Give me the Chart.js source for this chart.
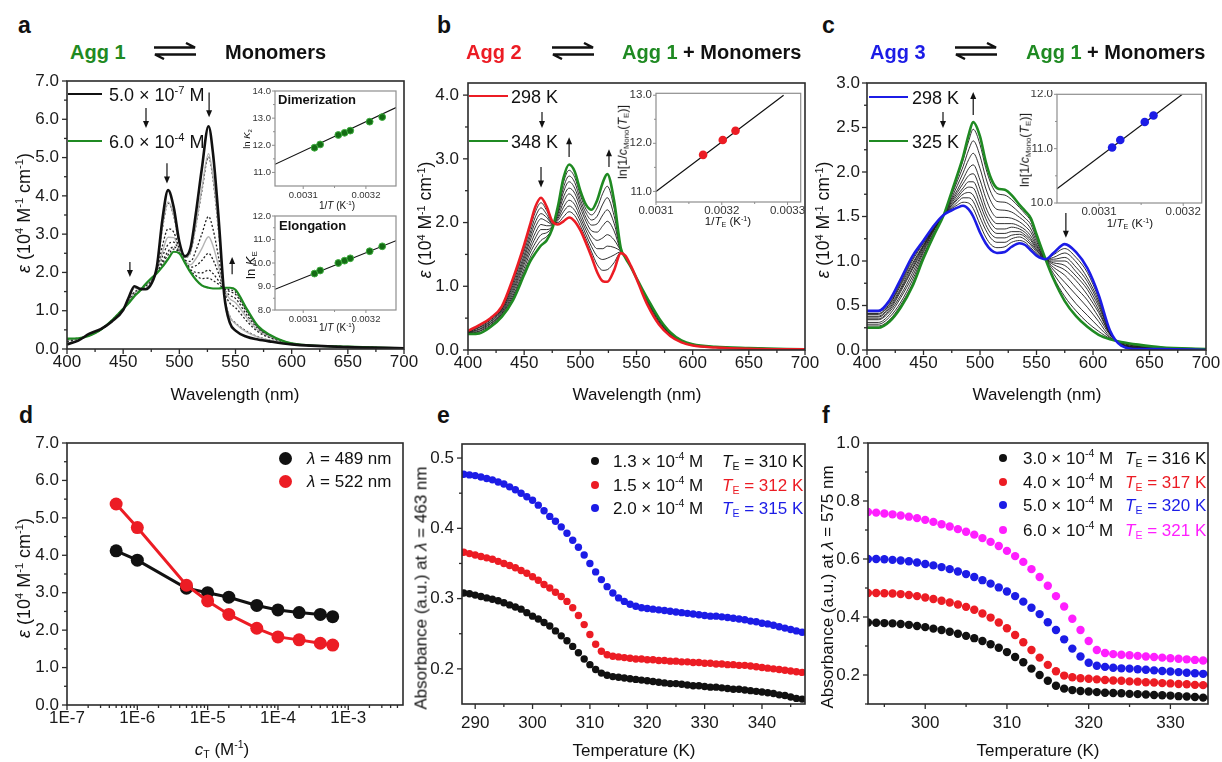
<!DOCTYPE html>
<html>
<head>
<meta charset="utf-8">
<script src="https://cdn.jsdelivr.net/npm/chart.js@4.4.0/dist/chart.umd.min.js"></script>
<style>
  body { margin: 0; width: 1222px; height: 762px; background: #fff; position: relative; overflow: hidden;
         font-family: "Liberation Sans", Arial, sans-serif; color: #111; }
  canvas, .t, .g { position: absolute; }
  .t { white-space: nowrap; line-height: 1; }
  sup { font-size: 0.62em; vertical-align: 0.62em; line-height: 0; }
  sub { font-size: 0.62em; vertical-align: -0.28em; line-height: 0; }
</style>
</head>
<body>
<script>
// ---------- data ----------
const WL_TICKS = [400, 450, 500, 550, 600, 650, 700];
const WL_MINOR = [425, 475, 525, 575, 625, 675];

// panel a: concentration dependent spectra
const A_WL = [400,410,420,430,440,450,455,460,465,470,475,480,485,490,495,500,505,510,515,520,526,530,535,540,545,550,560,570,580,600,650,700];
const A_BLACK = [0.12,0.22,0.40,0.52,0.72,1.02,1.35,1.64,1.57,1.56,1.70,2.15,3.40,4.15,3.70,2.80,2.42,2.65,3.60,4.70,5.82,5.10,3.40,1.40,0.68,0.48,0.32,0.25,0.20,0.12,0.05,0.02];
const A_GREEN = [0.27,0.28,0.35,0.50,0.75,1.05,1.20,1.38,1.52,1.70,1.85,1.98,2.15,2.35,2.54,2.50,2.25,2.00,1.80,1.66,1.60,1.58,1.58,1.60,1.60,1.55,1.05,0.60,0.38,0.15,0.06,0.02];
const A_MID = [
  [0.15,0.23,0.39,0.52,0.73,1.03,1.32,1.60,1.56,1.58,1.73,2.12,3.19,3.84,3.50,2.75,2.39,2.54,3.29,4.18,5.10,4.50,3.09,1.43,0.84,0.66,0.44,0.31,0.23,0.13,0.05,0.02],
  [0.15,0.23,0.39,0.52,0.73,1.03,1.32,1.59,1.56,1.59,1.73,2.12,3.16,3.81,3.48,2.74,2.39,2.53,3.26,4.12,5.02,4.43,3.05,1.44,0.85,0.68,0.46,0.32,0.23,0.13,0.05,0.02],
  [0.20,0.25,0.37,0.51,0.74,1.04,1.27,1.49,1.54,1.64,1.78,2.05,2.70,3.14,3.05,2.63,2.32,2.29,2.59,3.00,3.46,3.13,2.38,1.51,1.20,1.08,0.73,0.45,0.30,0.14,0.06,0.02],
  [0.22,0.26,0.37,0.51,0.74,1.04,1.25,1.46,1.54,1.66,1.80,2.03,2.54,2.92,2.91,2.59,2.30,2.20,2.37,2.62,2.93,2.69,2.15,1.54,1.31,1.21,0.82,0.49,0.32,0.14,0.06,0.02],
  [0.24,0.27,0.36,0.50,0.74,1.04,1.23,1.44,1.53,1.67,1.82,2.02,2.42,2.73,2.79,2.56,2.29,2.14,2.18,2.31,2.50,2.33,1.97,1.56,1.40,1.32,0.89,0.53,0.34,0.14,0.06,0.02],
  [0.25,0.27,0.36,0.50,0.75,1.05,1.22,1.41,1.53,1.68,1.83,2.00,2.29,2.55,2.67,2.53,2.27,2.07,2.00,1.99,2.06,1.97,1.78,1.58,1.50,1.43,0.97,0.56,0.36,0.15,0.06,0.02],
  [0.26,0.28,0.35,0.50,0.75,1.05,1.21,1.40,1.52,1.69,1.84,1.99,2.23,2.46,2.61,2.52,2.26,2.04,1.91,1.84,1.85,1.79,1.69,1.59,1.55,1.49,1.01,0.58,0.37,0.15,0.06,0.02]
];

// panel b: Agg 2 -> Agg 1, 298 K to 348 K
const B_WL = [400,410,420,430,440,450,455,460,465,470,475,480,485,490,495,500,505,510,515,520,524,530,536,540,545,550,555,560,570,580,590,600,620,650,700];
const B_RED = [0.30,0.39,0.50,0.68,1.12,1.65,1.95,2.25,2.39,2.25,2.02,1.97,2.02,2.08,2.02,1.88,1.68,1.46,1.22,1.08,1.07,1.25,1.52,1.48,1.32,1.12,0.90,0.70,0.40,0.22,0.12,0.07,0.04,0.02,0.01];
const B_GREEN = [0.25,0.26,0.36,0.52,0.78,1.18,1.38,1.52,1.64,1.72,1.90,2.25,2.70,2.91,2.80,2.50,2.28,2.20,2.35,2.63,2.76,2.35,1.60,1.45,1.30,1.13,0.96,0.80,0.50,0.28,0.15,0.09,0.05,0.03,0.01];
const B_MID = [
  [0.29,0.38,0.48,0.66,1.08,1.60,1.89,2.17,2.31,2.19,2.01,2.00,2.09,2.17,2.11,1.95,1.75,1.54,1.34,1.25,1.26,1.37,1.53,1.48,1.32,1.12,0.91,0.71,0.41,0.23,0.12,0.07,0.04,0.02,0.01],
  [0.29,0.36,0.47,0.64,1.05,1.55,1.82,2.09,2.23,2.13,1.99,2.03,2.17,2.26,2.19,2.02,1.81,1.62,1.47,1.42,1.44,1.49,1.54,1.47,1.32,1.12,0.91,0.72,0.42,0.23,0.13,0.07,0.04,0.02,0.01],
  [0.28,0.35,0.45,0.63,1.01,1.49,1.76,2.01,2.14,2.08,1.98,2.06,2.24,2.35,2.28,2.08,1.88,1.70,1.59,1.59,1.63,1.61,1.55,1.47,1.31,1.12,0.92,0.73,0.43,0.24,0.13,0.08,0.04,0.02,0.01],
  [0.28,0.33,0.44,0.61,0.97,1.44,1.70,1.93,2.06,2.02,1.97,2.09,2.32,2.45,2.36,2.15,1.94,1.79,1.72,1.76,1.81,1.73,1.56,1.47,1.31,1.12,0.93,0.74,0.44,0.25,0.13,0.08,0.04,0.02,0.01],
  [0.27,0.32,0.42,0.59,0.93,1.39,1.63,1.84,1.97,1.95,1.95,2.13,2.40,2.54,2.46,2.23,2.02,1.87,1.85,1.95,2.02,1.87,1.56,1.46,1.31,1.13,0.93,0.76,0.46,0.25,0.14,0.08,0.05,0.03,0.01],
  [0.27,0.30,0.41,0.57,0.89,1.34,1.57,1.76,1.89,1.89,1.94,2.16,2.48,2.64,2.54,2.30,2.08,1.96,1.98,2.12,2.20,1.99,1.57,1.46,1.31,1.13,0.94,0.77,0.47,0.26,0.14,0.08,0.05,0.03,0.01],
  [0.26,0.29,0.39,0.56,0.85,1.28,1.51,1.68,1.81,1.84,1.93,2.19,2.55,2.73,2.63,2.36,2.15,2.04,2.10,2.29,2.39,2.11,1.58,1.46,1.30,1.13,0.95,0.78,0.48,0.27,0.14,0.09,0.05,0.03,0.01],
  [0.26,0.27,0.38,0.54,0.82,1.23,1.44,1.60,1.72,1.78,1.91,2.22,2.63,2.82,2.71,2.43,2.21,2.12,2.23,2.46,2.57,2.23,1.59,1.45,1.30,1.13,0.95,0.79,0.49,0.27,0.15,0.09,0.05,0.03,0.01]
];

// panel c: Agg 3 -> Agg 1, 298 K to 325 K
const C_WL = [400,410,420,430,440,450,460,468,475,480,485,490,494,500,505,510,515,522,528,535,540,545,550,558,565,575,585,595,605,615,625,640,660,700];
const C_BLUE = [0.44,0.44,0.56,0.80,1.05,1.23,1.41,1.52,1.57,1.60,1.62,1.58,1.50,1.32,1.20,1.12,1.09,1.10,1.16,1.20,1.18,1.12,1.06,1.02,1.09,1.19,1.10,0.92,0.62,0.22,0.05,0.01,0.01,0.00];
const C_GREEN = [0.25,0.25,0.32,0.48,0.71,1.03,1.31,1.52,1.78,1.97,2.17,2.42,2.56,2.40,2.12,1.92,1.82,1.80,1.74,1.63,1.56,1.48,1.30,1.02,0.80,0.55,0.38,0.26,0.17,0.12,0.09,0.06,0.03,0.01];
const C_MID = [
  [0.43,0.43,0.54,0.77,1.02,1.21,1.40,1.52,1.59,1.63,1.66,1.65,1.59,1.41,1.27,1.18,1.15,1.16,1.21,1.23,1.21,1.15,1.08,1.02,1.07,1.14,1.04,0.87,0.58,0.21,0.05,0.01,0.01,0.00],
  [0.41,0.41,0.52,0.75,1.00,1.20,1.39,1.52,1.60,1.66,1.71,1.71,1.67,1.49,1.35,1.25,1.21,1.21,1.25,1.27,1.24,1.18,1.10,1.02,1.04,1.09,0.99,0.81,0.55,0.20,0.06,0.02,0.01,0.00],
  [0.40,0.40,0.51,0.73,0.97,1.18,1.39,1.52,1.62,1.69,1.75,1.77,1.74,1.57,1.41,1.30,1.26,1.26,1.29,1.30,1.27,1.20,1.12,1.02,1.02,1.04,0.93,0.77,0.52,0.20,0.06,0.02,0.01,0.00],
  [0.38,0.38,0.49,0.70,0.95,1.17,1.38,1.52,1.63,1.71,1.79,1.83,1.82,1.64,1.48,1.36,1.31,1.31,1.33,1.33,1.29,1.23,1.13,1.02,1.00,1.00,0.88,0.72,0.49,0.19,0.06,0.03,0.02,0.00],
  [0.37,0.37,0.47,0.68,0.92,1.16,1.37,1.52,1.65,1.74,1.82,1.89,1.89,1.72,1.54,1.42,1.36,1.36,1.38,1.36,1.32,1.25,1.15,1.02,0.98,0.95,0.83,0.68,0.45,0.18,0.06,0.03,0.02,0.00],
  [0.35,0.35,0.45,0.66,0.90,1.14,1.37,1.52,1.67,1.77,1.87,1.96,1.98,1.81,1.61,1.48,1.42,1.42,1.42,1.39,1.35,1.28,1.17,1.02,0.96,0.90,0.78,0.62,0.42,0.18,0.07,0.03,0.02,0.00],
  [0.34,0.34,0.43,0.62,0.86,1.12,1.36,1.52,1.69,1.80,1.92,2.04,2.08,1.91,1.71,1.56,1.49,1.49,1.48,1.44,1.39,1.32,1.19,1.02,0.93,0.84,0.70,0.56,0.37,0.17,0.07,0.04,0.02,0.01],
  [0.31,0.31,0.40,0.59,0.82,1.10,1.34,1.52,1.71,1.85,1.99,2.14,2.21,2.04,1.82,1.66,1.58,1.57,1.55,1.49,1.44,1.36,1.22,1.02,0.90,0.76,0.62,0.48,0.32,0.15,0.08,0.04,0.02,0.01],
  [0.29,0.29,0.37,0.54,0.78,1.07,1.33,1.52,1.74,1.90,2.06,2.25,2.35,2.18,1.94,1.76,1.67,1.66,1.62,1.54,1.48,1.41,1.25,1.02,0.86,0.68,0.52,0.39,0.26,0.14,0.08,0.05,0.03,0.01],
  [0.27,0.27,0.34,0.51,0.74,1.05,1.32,1.52,1.76,1.94,2.13,2.35,2.48,2.31,2.05,1.86,1.76,1.74,1.69,1.60,1.53,1.45,1.28,1.02,0.82,0.60,0.44,0.31,0.21,0.13,0.09,0.06,0.03,0.01]
];

// insets (van 't Hoff plots)
const INV_T_A = [0.003118,0.003127,0.003156,0.003166,0.003175,0.003206,0.003226];
const LN_K2 = [11.91,12.03,12.38,12.46,12.54,12.87,13.04];
const LN_KE = [9.55,9.68,10.00,10.10,10.20,10.50,10.71];
const FIT_A_X = [0.003055, 0.003248];
const FIT_K2 = [11.30, 13.39];
const FIT_KE = [8.88, 10.95];
const INV_T_B = [0.0031716,0.0032015,0.0032209];
const LN_C_B = [11.76,12.07,12.26];
const FIT_B_X = [0.0031, 0.003294];
const FIT_B_Y = [11.0, 13.0];
const INV_T_C = [0.0031155,0.0031252,0.0031543,0.0031647];
const LN_C_C = [11.02,11.16,11.49,11.61];
const FIT_C_X = [0.00305, 0.003199];
const FIT_C_Y = [10.26, 12.0];

// panel d
const D_CT = [5e-7,1e-6,5e-6,1e-5,2e-5,5e-5,1e-4,2e-4,4e-4,6e-4];
const D_489 = [4.12,3.87,3.12,3.00,2.88,2.66,2.54,2.47,2.42,2.36];
const D_522 = [5.37,4.74,3.20,2.78,2.42,2.05,1.82,1.74,1.65,1.60];

// panel e: cooling curves at 463 nm
const E_T = [288,289,290,291,292,293,294,295,296,297,298,299,300,301,302,303,304,305,306,307,308,309,310,311,312,313,314,315,316,317,318,319,320,321,322,323,324,325,326,327,328,329,330,331,332,333,334,335,336,337,338,339,340,341,342,343,344,345,346,347,348];
const E_13 = [0.308,0.307,0.305,0.303,0.301,0.299,0.297,0.294,0.291,0.288,0.285,0.280,0.275,0.271,0.266,0.261,0.254,0.247,0.240,0.232,0.223,0.214,0.206,0.199,0.194,0.191,0.189,0.188,0.187,0.186,0.185,0.184,0.183,0.182,0.181,0.180,0.179,0.179,0.178,0.177,0.176,0.176,0.175,0.174,0.174,0.173,0.172,0.171,0.171,0.170,0.169,0.168,0.167,0.166,0.165,0.163,0.162,0.160,0.158,0.157,0.155];
const E_15 = [0.366,0.364,0.362,0.360,0.358,0.356,0.353,0.350,0.347,0.344,0.340,0.336,0.331,0.326,0.320,0.315,0.309,0.303,0.296,0.287,0.276,0.263,0.249,0.235,0.225,0.220,0.218,0.217,0.216,0.215,0.214,0.214,0.213,0.213,0.212,0.212,0.211,0.211,0.210,0.210,0.209,0.209,0.208,0.208,0.207,0.207,0.206,0.206,0.205,0.205,0.204,0.203,0.202,0.201,0.200,0.199,0.198,0.197,0.196,0.195,0.194];
const E_20 = [0.477,0.476,0.475,0.473,0.471,0.469,0.466,0.463,0.459,0.455,0.450,0.445,0.440,0.433,0.425,0.417,0.410,0.402,0.393,0.383,0.373,0.362,0.350,0.338,0.327,0.317,0.308,0.301,0.296,0.292,0.289,0.287,0.286,0.285,0.284,0.283,0.282,0.281,0.280,0.279,0.278,0.277,0.276,0.275,0.275,0.274,0.273,0.272,0.271,0.270,0.268,0.267,0.265,0.264,0.262,0.260,0.258,0.256,0.254,0.252,0.250];

// panel f: cooling curves at 575 nm
const F_T = [293,294,295,296,297,298,299,300,301,302,303,304,305,306,307,308,309,310,311,312,313,314,315,316,317,318,319,320,321,322,323,324,325,326,327,328,329,330,331,332,333,334,335];
const F_30 = [0.381,0.380,0.379,0.378,0.376,0.373,0.369,0.365,0.360,0.355,0.349,0.342,0.335,0.327,0.317,0.306,0.294,0.279,0.262,0.244,0.222,0.200,0.180,0.163,0.153,0.148,0.145,0.143,0.141,0.139,0.138,0.137,0.135,0.134,0.133,0.131,0.130,0.129,0.127,0.126,0.124,0.122,0.120];
const F_40 = [0.483,0.483,0.482,0.481,0.479,0.476,0.472,0.467,0.462,0.456,0.450,0.443,0.435,0.425,0.412,0.398,0.381,0.361,0.338,0.313,0.286,0.260,0.235,0.213,0.198,0.192,0.189,0.187,0.185,0.183,0.181,0.180,0.178,0.177,0.175,0.174,0.172,0.171,0.169,0.168,0.166,0.165,0.163];
const F_50 = [0.600,0.600,0.599,0.597,0.595,0.592,0.588,0.583,0.578,0.572,0.565,0.557,0.548,0.538,0.527,0.515,0.502,0.488,0.472,0.453,0.432,0.410,0.382,0.355,0.323,0.291,0.264,0.242,0.232,0.228,0.225,0.223,0.222,0.220,0.218,0.216,0.214,0.212,0.210,0.208,0.206,0.204,0.202];
const F_60 = [0.762,0.760,0.757,0.754,0.750,0.746,0.741,0.735,0.728,0.720,0.712,0.703,0.694,0.684,0.672,0.659,0.645,0.628,0.610,0.590,0.565,0.538,0.508,0.472,0.436,0.394,0.355,0.317,0.286,0.276,0.272,0.270,0.268,0.266,0.264,0.262,0.260,0.258,0.256,0.254,0.252,0.250,0.248];

// ---------- helpers ----------
const FONT = "'Liberation Sans', Arial, sans-serif";
const GREEN = '#1f8a22', RED = '#ec1c24', BLUE = '#1c1ce6', PINK = '#ff1eff';
Chart.defaults.font.family = FONT;
Chart.defaults.color = '#1a1a1a';

const MAIN_FRAME = {color: '#2b2b2b', width: 1.6, tickWidth: 1.3, major: 5, minor: 3};
const INSET_FRAME = {color: '#8e8e8e', width: 1.2, tickWidth: 1, major: 3, minor: 2, bg: '#ffffff'};

const pts = (xs, ys) => xs.map((x, i) => ({x, y: ys[i]}));

function curve(xs, ys, color, width, dash) {
  return {data: pts(xs, ys), borderColor: color, borderWidth: width, borderDash: dash || [],
          pointRadius: 0, cubicInterpolationMode: 'monotone', fill: false};
}
function dots(xs, ys, color, r, edge) {
  return {data: pts(xs, ys), showLine: false, pointRadius: r, pointBackgroundColor: color,
          pointBorderColor: edge || color, pointBorderWidth: edge ? 1 : 0};
}

function frameTicks(o) {
  return {
    id: 'frameTicks',
    beforeDraw(chart) {
      if (!o.bg) return;
      const a = chart.chartArea, ctx = chart.ctx;
      ctx.save();
      ctx.fillStyle = o.bg;
      ctx.fillRect(a.left, a.top, a.right - a.left, a.bottom - a.top);
      ctx.restore();
    },
    afterDraw(chart) {
      const {ctx, chartArea: a, scales: {x, y}} = chart;
      ctx.save();
      ctx.strokeStyle = o.color;
      ctx.lineWidth = o.width;
      ctx.strokeRect(a.left, a.top, a.right - a.left, a.bottom - a.top);
      ctx.lineWidth = o.tickWidth;
      const mark = (sc, vals, len) => vals.forEach(v => {
        const p = sc.getPixelForValue(v);
        ctx.beginPath();
        if (sc === x) { ctx.moveTo(p, a.bottom); ctx.lineTo(p, a.bottom + len); }
        else { ctx.moveTo(a.left, p); ctx.lineTo(a.left - len, p); }
        ctx.stroke();
      });
      mark(x, o.xMajor, o.major); mark(x, o.xMinor, o.minor);
      mark(y, o.yMajor, o.major); mark(y, o.yMinor, o.minor);
      ctx.restore();
    }
  };
}

function arrowMarks(items) {
  return {
    id: 'arrowMarks',
    afterDatasetsDraw(chart) {
      const {ctx, scales: {x, y}} = chart;
      ctx.save();
      ctx.strokeStyle = ctx.fillStyle = '#111';
      ctx.lineWidth = 1.2;
      items.forEach(([xv, y1, y2]) => {
        const px = x.getPixelForValue(xv), p1 = y.getPixelForValue(y1), p2 = y.getPixelForValue(y2);
        const dir = p2 > p1 ? 1 : -1;
        ctx.beginPath(); ctx.moveTo(px, p1); ctx.lineTo(px, p2 - dir * 5); ctx.stroke();
        ctx.beginPath(); ctx.moveTo(px, p2); ctx.lineTo(px - 3, p2 - dir * 7); ctx.lineTo(px + 3, p2 - dir * 7);
        ctx.closePath(); ctx.fill();
      });
      ctx.restore();
    }
  };
}

function axis(o, fit) {
  return {
    type: o.type || 'linear', min: o.min, max: o.max,
    grid: {display: false, drawTicks: false}, border: {display: false},
    ticks: {font: {size: o.size}, color: o.color || '#1a1a1a', padding: o.pad,
            autoSkip: false, maxRotation: 0, minRotation: 0, callback: o.fmt},
    afterBuildTicks: s => { s.ticks = o.major.map(v => ({value: v})); },
    afterFit: s => {
      if (s.isHorizontal()) s.height = fit; else s.width = fit;
      s.paddingLeft = s.paddingRight = s.paddingTop = s.paddingBottom = 0;
    }
  };
}

function makeChart(c) {
  const pad = Object.assign({l: 70, r: 16, t: 14, b: 40}, c.pad || {});
  const cv = document.createElement('canvas');
  cv.width = c.box.r - c.box.l + pad.l + pad.r;
  cv.height = c.box.b - c.box.t + pad.t + pad.b;
  cv.style.left = (c.box.l - pad.l) + 'px';
  cv.style.top = (c.box.t - pad.t) + 'px';
  document.body.appendChild(cv);
  const frame = Object.assign({}, c.frame, {xMajor: c.x.major, xMinor: c.x.minor, yMajor: c.y.major, yMinor: c.y.minor});
  return new Chart(cv, {
    type: 'line',
    data: {datasets: c.datasets},
    options: {
      responsive: false, animation: false, events: [],
      layout: {padding: {left: 0, right: pad.r, top: pad.t, bottom: 0}},
      plugins: {legend: {display: false}, tooltip: {enabled: false}},
      scales: {x: axis(c.x, pad.b), y: axis(c.y, pad.l)}
    },
    plugins: [frameTicks(frame), arrowMarks(c.arrows || [])]
  });
}

function label(html, x, base, size, o = {}) {
  const d = document.createElement('div');
  d.className = 't';
  d.innerHTML = html;
  d.style.fontSize = size + 'px';
  d.style.left = x + 'px';
  d.style.top = (base - 0.846 * size) + 'px';
  if (o.bold) d.style.fontWeight = 'bold';
  if (o.color) d.style.color = o.color;
  if (o.center) d.style.transform = 'translateX(-50%)';
  document.body.appendChild(d);
}
function vlabel(html, cx, cy, size) {
  const d = document.createElement('div');
  d.className = 't';
  d.innerHTML = html;
  d.style.fontSize = size + 'px';
  d.style.left = cx + 'px';
  d.style.top = cy + 'px';
  d.style.transform = 'translate(-50%,-50%) rotate(-90deg)';
  document.body.appendChild(d);
}
function shape(x, y, w, h, color, round) {
  const d = document.createElement('div');
  d.className = 'g';
  Object.assign(d.style, {left: x + 'px', top: y + 'px', width: w + 'px', height: h + 'px', background: color,
                          borderRadius: round ? '50%' : '0'});
  document.body.appendChild(d);
}
const bar = (x1, x2, y, color) => shape(x1, y - 1.3, x2 - x1, 2.6, color);
const dot = (cx, cy, r, color) => shape(cx - r, cy - r, 2 * r, 2 * r, color, true);
function svg(x, y, w, h, body) {
  const d = document.createElement('div');
  d.className = 'g';
  d.style.left = x + 'px'; d.style.top = y + 'px';
  d.innerHTML = `<svg width="${w}" height="${h}" xmlns="http://www.w3.org/2000/svg">${body}</svg>`;
  document.body.appendChild(d);
}
function downArrow(x, y1, y2) {
  svg(x - 4, y1, 8, y2 - y1,
      `<line x1="4" y1="0" x2="4" y2="${y2 - y1 - 5}" stroke="#111" stroke-width="1.2"/>` +
      `<path d="M1 ${y2 - y1 - 7}L7 ${y2 - y1 - 7}L4 ${y2 - y1}Z" fill="#111"/>`);
}
function harpoons(x, cy) {
  svg(x, cy - 9, 44, 18,
      '<path d="M1 5.5H42L33 1" fill="none" stroke="#111" stroke-width="2.4"/>' +
      '<path d="M43 12.5H2L11 17" fill="none" stroke="#111" stroke-width="2.4"/>');
}

const fix1 = v => v.toFixed(1);
const fix4 = v => v.toFixed(4);
const EPS = '<i>ε</i> (10<sup>4</sup> M<sup>-1</sup> cm<sup>-1</sup>)';

// ---------- panel a ----------
makeChart({
  box: {l: 67, t: 81, r: 404, b: 349}, frame: MAIN_FRAME,
  x: {min: 400, max: 700, major: WL_TICKS, minor: WL_MINOR, fmt: v => v, size: 17, pad: 3},
  y: {min: 0, max: 7, major: [0,1,2,3,4,5,6,7], minor: [0.5,1.5,2.5,3.5,4.5,5.5,6.5], fmt: fix1, size: 17, pad: 8},
  datasets: [curve(A_WL, A_BLACK, '#111', 2.6), curve(A_WL, A_GREEN, GREEN, 2.2)].concat(
    A_MID.map((m, i) => (i === 0 || i === 3) ? curve(A_WL, m, '#b4b4b4', 1.4) : curve(A_WL, m, '#222', 1.3, [2, 2]))),
  arrows: [[456, 2.27, 1.88], [489, 4.85, 4.32], [526.5, 6.7, 6.05], [547, 1.95, 2.4]]
});

// ---------- panel b ----------
makeChart({
  box: {l: 468, t: 83, r: 805, b: 350}, frame: MAIN_FRAME,
  x: {min: 400, max: 700, major: WL_TICKS, minor: WL_MINOR, fmt: v => v, size: 17, pad: 3},
  y: {min: 0, max: 4.19, major: [0,1,2,3,4], minor: [0.5,1.5,2.5,3.5], fmt: fix1, size: 17, pad: 9},
  datasets: [curve(B_WL, B_RED, RED, 2.6), curve(B_WL, B_GREEN, GREEN, 2.6)].concat(
    B_MID.map(m => curve(B_WL, m, '#1a1a1a', 0.9))),
  arrows: [[465, 2.87, 2.55], [490, 3.03, 3.34], [525.5, 2.87, 3.15]]
});

// ---------- panel c ----------
makeChart({
  box: {l: 867, t: 83, r: 1206, b: 350}, frame: MAIN_FRAME,
  x: {min: 400, max: 700, major: WL_TICKS, minor: WL_MINOR, fmt: v => v, size: 17, pad: 3},
  y: {min: 0, max: 3, major: [0,0.5,1,1.5,2,2.5,3], minor: [0.25,0.75,1.25,1.75,2.25,2.75], fmt: fix1, size: 17, pad: 7},
  datasets: [curve(C_WL, C_BLUE, BLUE, 2.6), curve(C_WL, C_GREEN, GREEN, 2.6)].concat(
    C_MID.map(m => curve(C_WL, m, '#1a1a1a', 0.9))),
  arrows: [[494, 2.64, 2.9], [576, 1.54, 1.26]]
});

// ---------- insets ----------
makeChart({
  box: {l: 275, t: 90, r: 397, b: 186}, frame: INSET_FRAME, pad: {l: 40, r: 4, t: 4, b: 22},
  x: {min: 0.003055, max: 0.003248, major: [0.0031, 0.0032], minor: [0.00315], fmt: fix4, size: 9.5, pad: 4, color: '#333'},
  y: {min: 10.5, max: 14, major: [11,12,13,14], minor: [11.5,12.5,13.5], fmt: fix1, size: 9.5, pad: 4, color: '#333'},
  datasets: [dots(INV_T_A, LN_K2, '#146c14', 3.4, '#3fae3f'), curve(FIT_A_X, FIT_K2, '#111', 1.1)]
});
makeChart({
  box: {l: 275, t: 215, r: 397, b: 310}, frame: INSET_FRAME, pad: {l: 40, r: 4, t: 4, b: 22},
  x: {min: 0.003055, max: 0.003248, major: [0.0031, 0.0032], minor: [0.00315], fmt: fix4, size: 9.5, pad: 4, color: '#333'},
  y: {min: 8, max: 12, major: [8,9,10,11,12], minor: [8.5,9.5,10.5,11.5], fmt: fix1, size: 9.5, pad: 4, color: '#333'},
  datasets: [dots(INV_T_A, LN_KE, '#146c14', 3.4, '#3fae3f'), curve(FIT_A_X, FIT_KE, '#111', 1.1)]
});
makeChart({
  box: {l: 656, t: 93, r: 803, b: 202}, frame: INSET_FRAME, pad: {l: 40, r: 2, t: 4, b: 22},
  x: {min: 0.0031, max: 0.00332, major: [0.0031, 0.0032, 0.0033], minor: [0.00315, 0.00325], fmt: fix4, size: 11.5, pad: 2, color: '#333'},
  y: {min: 10.78, max: 13.04, major: [11,12,13], minor: [11.5,12.5], fmt: fix1, size: 11.5, pad: 4, color: '#333'},
  datasets: [dots(INV_T_B, LN_C_B, RED, 4.3), curve(FIT_B_X, FIT_B_Y, '#111', 1.2)]
});
makeChart({
  box: {l: 1057, t: 94, r: 1205, b: 203}, frame: INSET_FRAME, pad: {l: 40, r: 1, t: 4, b: 22},
  x: {min: 0.00305, max: 0.003222, major: [0.0031, 0.0032], minor: [0.00315], fmt: fix4, size: 11.5, pad: 2, color: '#333'},
  y: {min: 10, max: 12, major: [10,11,12], minor: [10.5,11.5], fmt: fix1, size: 11.5, pad: 4, color: '#333'},
  datasets: [dots(INV_T_C, LN_C_C, BLUE, 4.3), curve(FIT_C_X, FIT_C_Y, '#111', 1.2)]
});

// ---------- panel d ----------
const D_MINOR = [];
for (let k = -7; k <= -3; k++) for (let m = 2; m <= 9; m++) if (m * Math.pow(10, k) < 6e-3) D_MINOR.push(m * Math.pow(10, k));
makeChart({
  box: {l: 67, t: 443, r: 403, b: 705}, frame: MAIN_FRAME,
  x: {type: 'logarithmic', min: 1e-7, max: 6e-3, major: [1e-7,1e-6,1e-5,1e-4,1e-3], minor: D_MINOR,
      fmt: v => '1E' + Math.round(Math.log10(v)), size: 17, pad: 3},
  y: {min: 0, max: 7, major: [0,1,2,3,4,5,6,7], minor: [0.5,1.5,2.5,3.5,4.5,5.5,6.5], fmt: fix1, size: 17, pad: 8},
  datasets: [
    {data: pts(D_CT, D_522), borderColor: RED, borderWidth: 3, pointRadius: 6.5, pointBackgroundColor: RED, pointBorderWidth: 0},
    {data: pts(D_CT, D_489), borderColor: '#111', borderWidth: 3, pointRadius: 6.5, pointBackgroundColor: '#111', pointBorderWidth: 0}
  ]
});

// ---------- panel e ----------
makeChart({
  box: {l: 462, t: 444, r: 805, b: 704}, frame: MAIN_FRAME,
  x: {min: 287.7, max: 347.5, major: [290,300,310,320,330,340], minor: [295,305,315,325,335,345], fmt: v => v, size: 17, pad: 9},
  y: {min: 0.15, max: 0.52, major: [0.2,0.3,0.4,0.5], minor: [0.25,0.35,0.45], fmt: fix1, size: 17, pad: 8},
  datasets: [dots(E_T, E_20, BLUE, 3.7), dots(E_T, E_15, RED, 3.7), dots(E_T, E_13, '#111', 3.7)]
});

// ---------- panel f ----------
makeChart({
  box: {l: 868, t: 443, r: 1208, b: 704}, frame: MAIN_FRAME, pad: {r: 12},
  x: {min: 293, max: 334.6, major: [300,310,320,330], minor: [295,305,315,325], fmt: v => v, size: 17, pad: 9},
  y: {min: 0.1, max: 1.0, major: [0.2,0.4,0.6,0.8,1.0], minor: [0.1,0.3,0.5,0.7,0.9], fmt: fix1, size: 17, pad: 8},
  datasets: [dots(F_T, F_60, PINK, 4.2), dots(F_T, F_50, BLUE, 4.2), dots(F_T, F_40, RED, 4.2), dots(F_T, F_30, '#111', 4.2)]
});

// ---------- text: panel letters and equilibria ----------
label('a', 18, 33, 23, {bold: true});
label('b', 437, 33, 23, {bold: true});
label('c', 822, 33, 23, {bold: true});
label('d', 19, 423, 23, {bold: true});
label('e', 437, 423, 23, {bold: true});
label('f', 822, 423, 23, {bold: true});

label('Agg 1', 70, 59, 20, {bold: true, color: GREEN});
harpoons(153, 51);
label('Monomers', 225, 59, 20, {bold: true});
label('Agg 2', 466, 59, 20, {bold: true, color: RED});
harpoons(551, 51);
label(`<span style="color:${GREEN}">Agg 1</span> + Monomers`, 622, 59, 20, {bold: true});
label('Agg 3', 870, 59, 20, {bold: true, color: BLUE});
harpoons(954, 51);
label(`<span style="color:${GREEN}">Agg 1</span> + Monomers`, 1026, 59, 20, {bold: true});

// ---------- axis titles ----------
label('Wavelength (nm)', 235, 400, 17, {center: true});
label('Wavelength (nm)', 637, 400, 17, {center: true});
label('Wavelength (nm)', 1037, 400, 17, {center: true});
vlabel(EPS, 24, 213, 18);
vlabel(EPS, 426, 220, 17.5);
vlabel(EPS, 824, 220, 17.5);
vlabel(EPS, 24, 578, 18);
label('<i>c</i><sub>T</sub> (M<sup>-1</sup>)', 222, 755, 17, {center: true});
vlabel('Absorbance (a.u.) at <i>λ</i> = 463 nm', 421, 588, 17);
label('Temperature (K)', 634, 756, 17, {center: true});
vlabel('Absorbance (a.u.) at <i>λ</i> = 575 nm', 827, 587, 17);
label('Temperature (K)', 1038, 756, 17, {center: true});

// inset titles
label('Dimerization', 278, 104, 13, {bold: true});
label('Elongation', 279, 230, 13, {bold: true});
vlabel('ln <i>K</i><sub>2</sub>', 247, 139, 9.5);
vlabel('ln <i>K</i><sub>E</sub>', 250, 265, 13);
label('1/<i>T</i> (K<sup>-1</sup>)', 337, 209, 10, {center: true});
label('1/<i>T</i> (K<sup>-1</sup>)', 337, 331, 10, {center: true});
vlabel('ln[1/<i>c</i><sub>Mono</sub>(<i>T</i><sub>E</sub>)]', 623, 142, 12.5);
label('1/<i>T</i><sub>E</sub> (K<sup>-1</sup>)', 728, 226, 11.5, {center: true});
vlabel('ln[1/<i>c</i><sub>Mono</sub>(<i>T</i><sub>E</sub>)]', 1025, 150, 12.5);
label('1/<i>T</i><sub>E</sub> (K<sup>-1</sup>)', 1130, 228, 11.5, {center: true});

// ---------- legends ----------
bar(68, 102, 94, '#111');
label('5.0 × 10<sup>-7</sup> M', 109, 101, 18);
downArrow(146, 108, 128);
bar(68, 102, 141, GREEN);
label('6.0 × 10<sup>-4</sup> M', 109, 148, 18);

bar(469, 508, 96, RED);
label('298 K', 511, 103, 18);
downArrow(542, 112, 128);
bar(469, 508, 141, GREEN);
label('348 K', 511, 148, 18);

bar(869, 908, 97, BLUE);
label('298 K', 912, 104, 18);
downArrow(943, 112, 128);
bar(869, 908, 141, GREEN);
label('325 K', 912, 148, 18);

dot(285, 458, 6.5, '#111');
label('<i>λ</i> = 489 nm', 307, 464, 17);
dot(285, 481, 6.5, RED);
label('<i>λ</i> = 522 nm', 307, 487, 17);

[['1.3', '310', '#111', 461], ['1.5', '312', RED, 485], ['2.0', '315', BLUE, 508]].forEach(([c, t, col, y]) => {
  dot(595, y, 4.3, col);
  label(`${c} × 10<sup>-4</sup> M`, 613, y + 6, 17);
  label(`<i>T</i><sub>E</sub> = ${t} K`, 722, y + 6, 17, {color: col});
});
[['3.0', '316', '#111', 458], ['4.0', '317', RED, 482], ['5.0', '320', BLUE, 505], ['6.0', '321', PINK, 530]].forEach(([c, t, col, y]) => {
  dot(1003, y, 4.3, col);
  label(`${c} × 10<sup>-4</sup> M`, 1023, y + 6, 17);
  label(`<i>T</i><sub>E</sub> = ${t} K`, 1125, y + 6, 17, {color: col});
});
</script>
</body>
</html>
